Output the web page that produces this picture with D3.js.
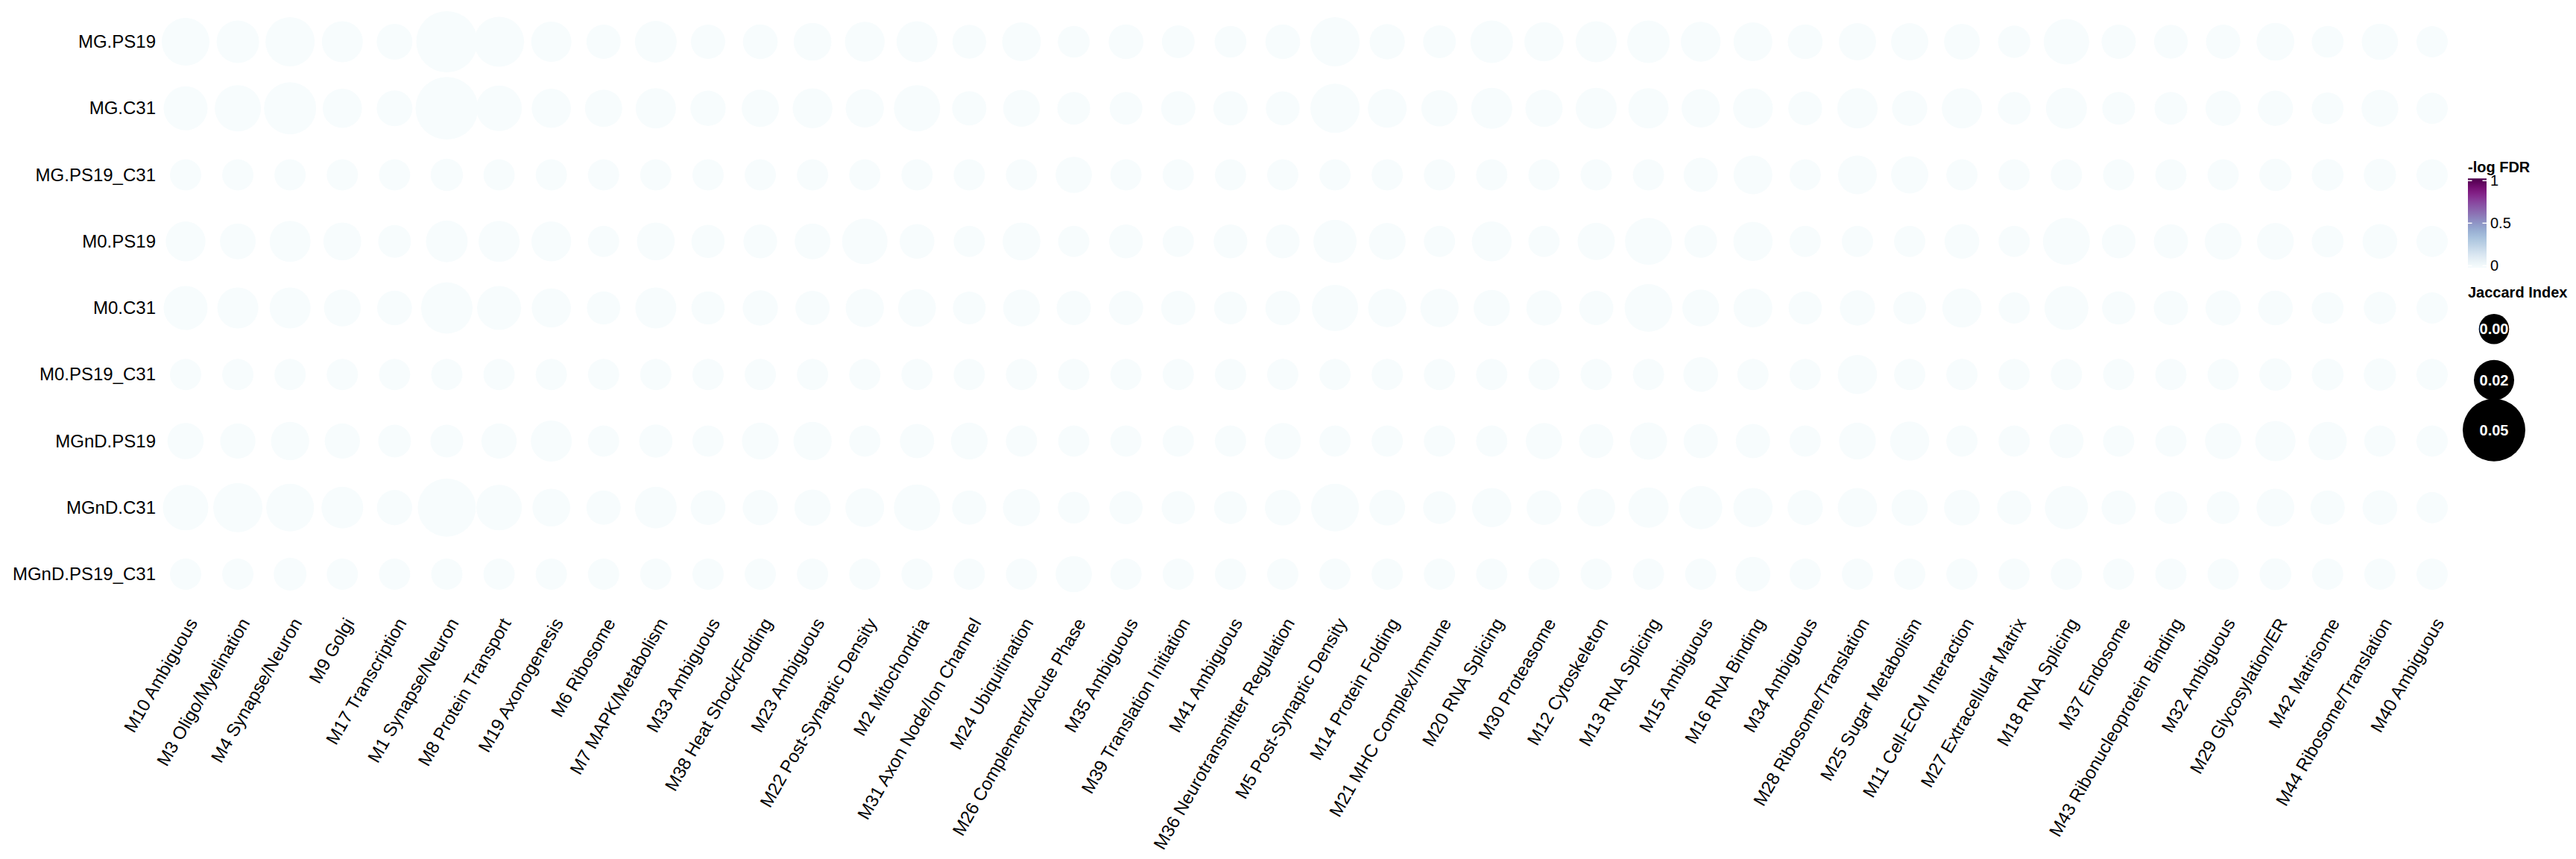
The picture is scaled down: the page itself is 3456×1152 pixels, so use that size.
<!DOCTYPE html>
<html><head><meta charset="utf-8">
<script src="https://cdn.jsdelivr.net/npm/d3@7"></script>
<style>
body{margin:0;background:#fff}
svg{display:block}
text{font-family:"Liberation Sans",Arial,Helvetica,sans-serif}
</style>
</head><body>
<svg id="chart" width="3456" height="1152"></svg>
<script>
// ---------------- DATA ----------------
const rows = ["MG.PS19","MG.C31","MG.PS19_C31","M0.PS19","M0.C31","M0.PS19_C31","MGnD.PS19","MGnD.C31","MGnD.PS19_C31"];
const modules = ["M10 Ambiguous","M3 Oligo/Myelination","M4 Synapse/Neuron","M9 Golgi","M17 Transcription","M1 Synapse/Neuron","M8 Protein Transport","M19 Axonogenesis","M6 Ribosome","M7 MAPK/Metabolism","M33 Ambiguous","M38 Heat Shock/Folding","M23 Ambiguous","M22 Post-Synaptic Density","M2 Mitochondria","M31 Axon Node/Ion Channel","M24 Ubiquitination","M26 Complement/Acute Phase","M35 Ambiguous","M39 Translation Initiation","M41 Ambiguous","M36 Neurotransmitter Regulation","M5 Post-Synaptic Density","M14 Protein Folding","M21 MHC Complex/Immune","M20 RNA Splicing","M30 Proteasome","M12 Cytoskeleton","M13 RNA Splicing","M15 Ambiguous","M16 RNA Binding","M34 Ambiguous","M28 Ribosome/Translation","M25 Sugar Metabolism","M11 Cell-ECM Interaction","M27 Extracellular Matrix","M18 RNA Splicing","M37 Endosome","M43 Ribonucleoprotein Binding","M32 Ambiguous","M29 Glycosylation/ER","M42 Matrisome","M44 Ribosome/Translation","M40 Ambiguous"];

// Jaccard index, one array per row (columns in module order)
const jacMG_PS19 = [0.030,0.023,0.032,0.021,0.011,0.048,0.033,0.020,0.008,0.022,0.008,0.009,0.015,0.019,0.021,0.007,0.017,0.003,0.009,0.005,0.003,0.009,0.032,0.010,0.005,0.023,0.018,0.021,0.023,0.019,0.017,0.009,0.014,0.014,0.011,0.004,0.027,0.008,0.007,0.008,0.015,0.003,0.012,0.002];
const jacMG_C31 = [0.025,0.028,0.036,0.018,0.011,0.050,0.027,0.018,0.014,0.020,0.010,0.014,0.019,0.016,0.028,0.008,0.013,0.005,0.005,0.008,0.008,0.007,0.032,0.017,0.012,0.021,0.014,0.021,0.020,0.016,0.019,0.007,0.020,0.010,0.020,0.005,0.021,0.005,0.005,0.010,0.010,0.003,0.013,0.002];
const jacMG_PS19_C31 = [0.002,0.002,0.002,0.002,0.002,0.004,0.002,0.002,0.002,0.002,0.002,0.002,0.002,0.002,0.002,0.002,0.002,0.012,0.002,0.002,0.002,0.002,0.002,0.002,0.002,0.002,0.002,0.002,0.002,0.008,0.017,0.002,0.017,0.014,0.002,0.002,0.002,0.002,0.002,0.002,0.004,0.003,0.004,0.002];
const jacM0_PS19 = [0.019,0.011,0.021,0.015,0.005,0.022,0.021,0.019,0.002,0.015,0.006,0.007,0.011,0.027,0.009,0.002,0.015,0.002,0.007,0.002,0.007,0.007,0.024,0.013,0.002,0.019,0.002,0.014,0.029,0.005,0.018,0.002,0.002,0.002,0.009,0.002,0.029,0.007,0.008,0.013,0.013,0.003,0.009,0.002];
const jacM0_C31 = [0.025,0.021,0.021,0.013,0.009,0.035,0.025,0.018,0.006,0.021,0.006,0.010,0.008,0.016,0.015,0.005,0.013,0.008,0.008,0.008,0.005,0.009,0.028,0.016,0.016,0.012,0.010,0.008,0.030,0.013,0.017,0.006,0.010,0.005,0.018,0.002,0.025,0.006,0.008,0.010,0.009,0.003,0.004,0.002];
const jacM0_PS19_C31 = [0.002,0.002,0.002,0.002,0.002,0.002,0.002,0.002,0.002,0.002,0.002,0.002,0.002,0.002,0.002,0.002,0.002,0.002,0.002,0.002,0.002,0.002,0.002,0.002,0.002,0.002,0.002,0.002,0.002,0.009,0.002,0.002,0.018,0.002,0.002,0.002,0.002,0.002,0.002,0.002,0.004,0.003,0.004,0.002];
const jacMGnD_PS19 = [0.012,0.010,0.016,0.010,0.005,0.005,0.010,0.021,0.002,0.006,0.002,0.013,0.016,0.002,0.008,0.013,0.002,0.002,0.002,0.002,0.002,0.012,0.002,0.002,0.002,0.002,0.012,0.008,0.014,0.008,0.008,0.002,0.013,0.018,0.002,0.002,0.008,0.002,0.002,0.012,0.020,0.016,0.002,0.002];
const jacMGnD_C31 = [0.027,0.032,0.030,0.022,0.010,0.044,0.027,0.015,0.008,0.022,0.009,0.010,0.012,0.017,0.028,0.008,0.014,0.003,0.006,0.006,0.005,0.011,0.030,0.011,0.005,0.018,0.009,0.015,0.020,0.024,0.018,0.010,0.018,0.012,0.011,0.008,0.024,0.008,0.005,0.005,0.015,0.008,0.009,0.002];
const jacMGnD_PS19_C31 = [0.002,0.002,0.005,0.002,0.002,0.002,0.002,0.002,0.002,0.002,0.002,0.002,0.002,0.002,0.002,0.002,0.002,0.012,0.002,0.002,0.002,0.002,0.002,0.002,0.002,0.002,0.002,0.002,0.002,0.002,0.009,0.002,0.002,0.002,0.002,0.002,0.002,0.002,0.002,0.002,0.003,0.002,0.002,0.002];

// -log FDR, one array per row (all essentially zero)
const fdrMG_PS19 = [0,0,0,0,0,0,0,0,0,0,0,0,0,0,0,0,0,0,0,0,0,0,0,0,0,0,0,0,0,0,0,0,0,0,0,0,0,0,0,0,0,0,0,0];
const fdrMG_C31 = [0,0,0,0,0,0,0,0,0,0,0,0,0,0,0,0,0,0,0,0,0,0,0,0,0,0,0,0,0,0,0,0,0,0,0,0,0,0,0,0,0,0,0,0];
const fdrMG_PS19_C31 = [0,0,0,0,0,0,0,0,0,0,0,0,0,0,0,0,0,0,0,0,0,0,0,0,0,0,0,0,0,0,0,0,0,0,0,0,0,0,0,0,0,0,0,0];
const fdrM0_PS19 = [0,0,0,0,0,0,0,0,0,0,0,0,0,0,0,0,0,0,0,0,0,0,0,0,0,0,0,0,0,0,0,0,0,0,0,0,0,0,0,0,0,0,0,0];
const fdrM0_C31 = [0,0,0,0,0,0,0,0,0,0,0,0,0,0,0,0,0,0,0,0,0,0,0,0,0,0,0,0,0,0,0,0,0,0,0,0,0,0,0,0,0,0,0,0];
const fdrM0_PS19_C31 = [0,0,0,0,0,0,0,0,0,0,0,0,0,0,0,0,0,0,0,0,0,0,0,0,0,0,0,0,0,0,0,0,0,0,0,0,0,0,0,0,0,0,0,0];
const fdrMGnD_PS19 = [0,0,0,0,0,0,0,0,0,0,0,0,0,0,0,0,0,0,0,0,0,0,0,0,0,0,0,0,0,0,0,0,0,0,0,0,0,0,0,0,0,0,0,0];
const fdrMGnD_C31 = [0,0,0,0,0,0,0,0,0,0,0,0,0,0,0,0,0,0,0,0,0,0,0,0,0,0,0,0,0,0,0,0,0,0,0,0,0,0,0,0,0,0,0,0];
const fdrMGnD_PS19_C31 = [0,0,0,0,0,0,0,0,0,0,0,0,0,0,0,0,0,0,0,0,0,0,0,0,0,0,0,0,0,0,0,0,0,0,0,0,0,0,0,0,0,0,0,0];

// legend values
const sizeBreaks = [0.00, 0.02, 0.05];
const sizeBreakLabels = ["0.00", "0.02", "0.05"];
const colorTicks = [0, 0.5, 1];
const colorTickLabels = ["0", "0.5", "1"];

// ---------------- BUILD ----------------
const jacRows = [jacMG_PS19, jacMG_C31, jacMG_PS19_C31, jacM0_PS19, jacM0_C31, jacM0_PS19_C31, jacMGnD_PS19, jacMGnD_C31, jacMGnD_PS19_C31];
const fdrRows = [fdrMG_PS19, fdrMG_C31, fdrMG_PS19_C31, fdrM0_PS19, fdrM0_C31, fdrM0_PS19_C31, fdrMGnD_PS19, fdrMGnD_C31, fdrMGnD_PS19_C31];
const cells = [];
rows.forEach((r, i) => modules.forEach((m, j) => cells.push({row: r, mod: m, jac: jacRows[i][j], fdr: fdrRows[i][j]})));

const svg = d3.select("#chart");
const x = d3.scalePoint().domain(modules).range([249, 3263]);
const y = d3.scalePoint().domain(rows).range([56, 770]);
const rScale = d3.scaleLinear().domain([0, 0.02, 0.05]).range([20.3, 27, 42]);
const color = d3.scaleSequential(d3.interpolateBuPu).domain([0, 1]);

// points
svg.append("g").selectAll("circle").data(cells).join("circle")
  .attr("cx", d => x(d.mod)).attr("cy", d => y(d.row))
  .attr("r", d => rScale(d.jac))
  .attr("fill", d => color(d.fdr));

// y axis labels
const yAxis = d3.axisLeft(y).tickSize(0).tickPadding(0);
const gy = svg.append("g").attr("transform", "translate(209,0)").call(yAxis);
gy.select(".domain").remove();
gy.selectAll("text").attr("font-size", 24).attr("fill", "#000")
  .style("font-family", '"Liberation Sans",Arial,sans-serif');

// x axis labels (rotated)
const xAxis = d3.axisBottom(x).tickSize(0).tickPadding(0);
const gx = svg.append("g").attr("transform", "translate(0,831)").call(xAxis);
gx.select(".domain").remove();
gx.selectAll("text")
  .attr("font-size", 24).attr("fill", "#000")
  .style("font-family", '"Liberation Sans",Arial,sans-serif')
  .attr("text-anchor", "end")
  .attr("x", 0).attr("y", 0).attr("dy", "0.35em")
  .attr("transform", "translate(9,0) rotate(-60)");

// ---- colour legend ----
const lg = svg.append("g");
lg.append("text").attr("x", 3311).attr("y", 231)
  .attr("font-size", 20).attr("font-weight", "bold").text("-log FDR");
const cbScale = d3.scaleLinear().domain([0, 1]).range([356.3, 242.3]);
const defs = svg.append("defs");
const grad = defs.append("linearGradient").attr("id", "bupu")
  .attr("x1", 0).attr("y1", 1).attr("x2", 0).attr("y2", 0);
d3.range(0, 1.0001, 0.05).forEach(t => grad.append("stop").attr("offset", t).attr("stop-color", color(t)));
const barTop = cbScale(1) - 3, barBot = cbScale(0) + 3;
lg.append("rect").attr("x", 3311).attr("y", barTop).attr("width", 25).attr("height", barBot - barTop)
  .attr("fill", "url(#bupu)");
colorTicks.forEach((t, i) => {
  const yy = cbScale(t);
  lg.append("line").attr("x1", 3311).attr("x2", 3316.5).attr("y1", yy).attr("y2", yy).attr("stroke", "#fff").attr("stroke-width", 1.5);
  lg.append("line").attr("x1", 3330.5).attr("x2", 3336).attr("y1", yy).attr("y2", yy).attr("stroke", "#fff").attr("stroke-width", 1.5);
  lg.append("text").attr("x", 3341).attr("y", yy).attr("dy", "0.35em").attr("font-size", 20).text(colorTickLabels[i]);
});

// ---- size legend ----
lg.append("text").attr("x", 3311).attr("y", 399)
  .attr("font-size", 20).attr("font-weight", "bold").text("Jaccard Index");
const keyY = [441.3, 509.7, 576.7];
sizeBreaks.forEach((v, i) => {
  lg.append("circle").attr("cx", 3346).attr("cy", keyY[i]).attr("r", rScale(v)).attr("fill", "#000");
  lg.append("text").attr("x", 3346).attr("y", keyY[i]).attr("dy", "0.35em")
    .attr("text-anchor", "middle").attr("font-size", 20).attr("font-weight", "bold")
    .attr("fill", "#fff").text(sizeBreakLabels[i]);
});
</script>
</body></html>
